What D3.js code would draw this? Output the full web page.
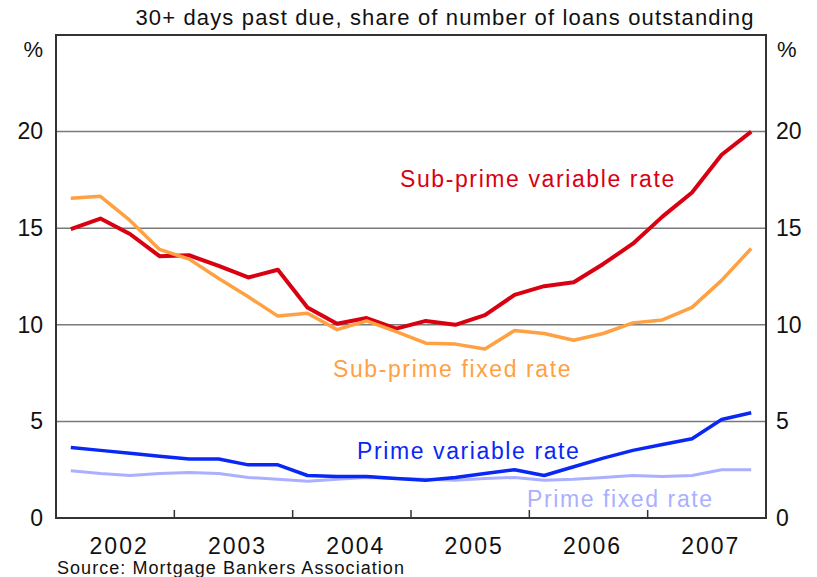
<!DOCTYPE html>
<html>
<head>
<meta charset="utf-8">
<script src="https://cdn.jsdelivr.net/npm/d3@7"></script>
<style>
  html, body { margin: 0; padding: 0; background: #fff; }
  svg { display: block; }
  text { font-family: "Liberation Sans", Arial, sans-serif; }
</style>
</head>
<body>
<svg id="chart" width="817" height="577"></svg>
<script>
// Quarterly observations, 2002 Q1 – 2007 Q4
const quarters = [
  "2002 Q1", "2002 Q2", "2002 Q3", "2002 Q4",
  "2003 Q1", "2003 Q2", "2003 Q3", "2003 Q4",
  "2004 Q1", "2004 Q2", "2004 Q3", "2004 Q4",
  "2005 Q1", "2005 Q2", "2005 Q3", "2005 Q4",
  "2006 Q1", "2006 Q2", "2006 Q3", "2006 Q4",
  "2007 Q1", "2007 Q2", "2007 Q3", "2007 Q4"
];

// 30+ days past due, % of loans outstanding
const subPrimeVariable = [14.95, 15.5, 14.7, 13.55, 13.6, 13.05, 12.45, 12.85, 10.9, 10.05, 10.35, 9.8,
                          10.2, 10.0, 10.5, 11.55, 12.0, 12.2, 13.15, 14.2, 15.6, 16.85, 18.8, 20.0];
const subPrimeFixed    = [16.55, 16.65, 15.4, 13.9, 13.4, 12.4, 11.45, 10.45, 10.6, 9.75, 10.2, 9.65,
                          9.05, 9.0, 8.75, 9.7, 9.55, 9.2, 9.55, 10.1, 10.25, 10.9, 12.3, 13.95];
const primeVariable    = [3.65, 3.5, 3.35, 3.2, 3.05, 3.05, 2.75, 2.75, 2.2, 2.15, 2.15, 2.05,
                          1.95, 2.1, 2.3, 2.5, 2.2, 2.65, 3.1, 3.5, 3.8, 4.1, 5.1, 5.45];
const primeFixed       = [2.45, 2.3, 2.2, 2.3, 2.35, 2.3, 2.1, 2.0, 1.9, 2.0, 2.1, 2.05,
                          2.0, 1.95, 2.05, 2.1, 1.95, 2.0, 2.1, 2.2, 2.15, 2.2, 2.5, 2.5];

const yearLabels = ["2002", "2003", "2004", "2005", "2006", "2007"];
const yTicks = [0, 5, 10, 15, 20];

const series = [
  { name: "Sub-prime variable rate", values: subPrimeVariable, color: "#d90012", width: 4,   label: [400, 187] },
  { name: "Sub-prime fixed rate",    values: subPrimeFixed,    color: "#ffa042", width: 3.5, label: [333, 377] },
  { name: "Prime fixed rate",        values: primeFixed,       color: "#aab0ff", width: 3,   label: [527, 507] },
  { name: "Prime variable rate",     values: primeVariable,    color: "#0a28f5", width: 3.5, label: [357, 459] }
];

const svg = d3.select("#chart");
const box = { left: 56, right: 766, top: 35, bottom: 518 };

// quarter label -> mid-quarter position in decimal years
const qPos = q => +q.slice(0, 4) + (+q.slice(6) - 1) * 0.25 + 0.125;

const x = d3.scaleLinear().domain([2002, 2008]).range([box.left, box.right]);
const y = d3.scaleLinear().domain([0, 25]).range([box.bottom, box.top]);

// subtitle
svg.append("text")
  .attr("x", 445).attr("y", 25)
  .attr("text-anchor", "middle")
  .attr("font-size", 22).attr("letter-spacing", 1.15).attr("fill", "#111")
  .text("30+ days past due, share of number of loans outstanding");

// horizontal gridlines
svg.append("g").selectAll("line")
  .data(yTicks.filter(d => d > 0))
  .join("line")
  .attr("x1", box.left).attr("x2", box.right)
  .attr("y1", d => y(d)).attr("y2", d => y(d))
  .attr("stroke", "#7a7a7a").attr("stroke-width", 1.5);

// year ticks (inside, from the bottom)
const yearBounds = d3.range(2003, 2008);
svg.append("g").selectAll("line")
  .data(yearBounds)
  .join("line")
  .attr("x1", d => x(d)).attr("x2", d => x(d))
  .attr("y1", box.bottom).attr("y2", box.bottom - 8)
  .attr("stroke", "#333").attr("stroke-width", 1.5);

// year labels centred within each year
svg.append("g").selectAll("text")
  .data(yearLabels)
  .join("text")
  .attr("x", d => x(+d + 0.5) + 4)
  .attr("y", 554)
  .attr("text-anchor", "middle")
  .attr("font-size", 23).attr("letter-spacing", 2).attr("fill", "#111")
  .text(d => d);

// left and right value axes
const axisL = d3.axisLeft(y).tickValues(yTicks).tickSize(0).tickPadding(13);
const axisR = d3.axisRight(y).tickValues(yTicks).tickSize(0).tickPadding(10);
const gL = svg.append("g").attr("transform", `translate(${box.left},0)`).call(axisL);
const gR = svg.append("g").attr("transform", `translate(${box.right},0)`).call(axisR);
[gL, gR].forEach(g => {
  g.select(".domain").remove();
  g.selectAll("text").attr("font-size", 23).attr("fill", "#111")
    .attr("font-family", "Liberation Sans, Arial, sans-serif");
});

svg.append("text").attr("x", 43).attr("y", 57).attr("text-anchor", "end")
  .attr("font-size", 22).attr("fill", "#111").text("%");
svg.append("text").attr("x", 777).attr("y", 57)
  .attr("font-size", 22).attr("fill", "#111").text("%");

// series lines
const line = d3.line()
  .x((d, i) => x(qPos(quarters[i])))
  .y(d => y(d));

svg.append("g").selectAll("path")
  .data(series)
  .join("path")
  .attr("d", s => line(s.values))
  .attr("fill", "none")
  .attr("stroke", s => s.color)
  .attr("stroke-width", s => s.width)
  .attr("stroke-linejoin", "round");

// series labels
svg.append("g").selectAll("text")
  .data(series)
  .join("text")
  .attr("x", s => s.label[0]).attr("y", s => s.label[1])
  .attr("font-size", 23).attr("letter-spacing", 1.6)
  .attr("fill", s => s.color)
  .text(s => s.name);

// plot frame
svg.append("rect")
  .attr("x", box.left).attr("y", box.top)
  .attr("width", box.right - box.left).attr("height", box.bottom - box.top)
  .attr("fill", "none").attr("stroke", "#333").attr("stroke-width", 2);

// source note
svg.append("text")
  .attr("x", 57).attr("y", 574)
  .attr("font-size", 18).attr("letter-spacing", 1.05).attr("fill", "#111")
  .text("Source: Mortgage Bankers Association");
</script>
</body>
</html>
